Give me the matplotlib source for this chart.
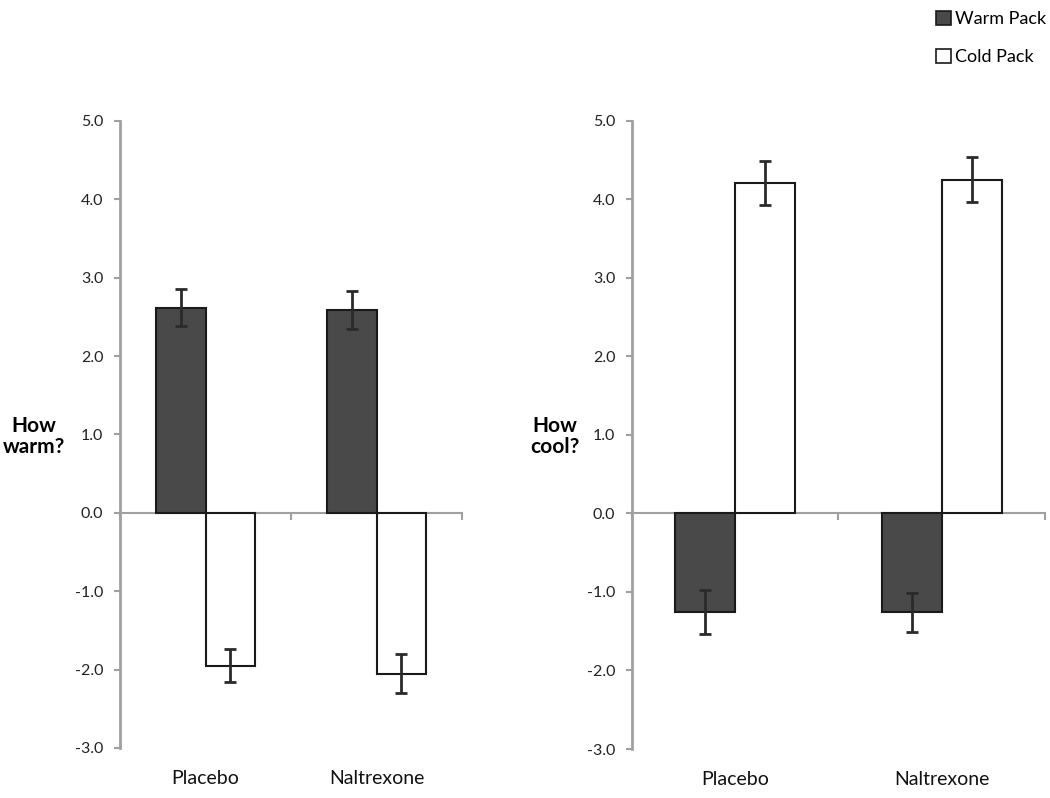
import numpy as np
import matplotlib.pyplot as plt
from matplotlib.patches import Patch

plt.rcParams['font.family'] = ['Lato', 'DejaVu Sans']
plt.rcParams['axes.unicode_minus'] = False

# data
groups = ['Placebo', 'Naltrexone']
series = ['Warm Pack', 'Cold Pack']

warm_rating_warm = [2.62, 2.59]
warm_rating_cold = [-1.95, -2.05]
warm_err_warm = [0.23, 0.24]
warm_err_cold = [0.21, 0.245]

cool_rating_warm = [-1.25, -1.26]
cool_rating_cold = [4.21, 4.25]
cool_err_warm = [0.28, 0.25]
cool_err_cold = [0.28, 0.285]

yticks = [5.0, 4.0, 3.0, 2.0, 1.0, 0.0, -1.0, -2.0, -3.0]

warm_col = '#494949'
cold_col = 'white'
edge_col = '#1a1a1a'
axis_col = '#a0a0a0'

fig = plt.figure(figsize=(10.5, 7.98), dpi=100)
ax1 = fig.add_axes([0.1143, 0.0627, 0.3257, 0.7857])
ax2 = fig.add_axes([0.6019, 0.0614, 0.3933, 0.787])


def draw_panel(ax, warm, cold, warm_err, cold_err, ylabel, ylab_x):
    x = np.arange(len(groups))
    w = 0.29
    ax.bar(x - w / 2, warm, w, color=warm_col, edgecolor=edge_col, linewidth=1.5, zorder=3)
    ax.bar(x + w / 2, cold, w, color=cold_col, edgecolor=edge_col, linewidth=1.5, zorder=3)
    ax.errorbar(x - w / 2, warm, yerr=warm_err, fmt='none', ecolor='#2a2a2a',
                elinewidth=2, capsize=4, capthick=2, zorder=4)
    ax.errorbar(x + w / 2, cold, yerr=cold_err, fmt='none', ecolor='#2a2a2a',
                elinewidth=2, capsize=4, capthick=2, zorder=4)

    ax.set_xlim(-0.5, 1.5)
    ax.set_ylim(-3, 5)
    ax.set_yticks(yticks)
    ax.set_yticklabels(['%.1f' % v for v in yticks], fontsize=11.5, color='#222222')
    ax.set_xticks([-0.5, 0.5, 1.5])
    ax.set_xticklabels([])

    for s in ['top', 'right']:
        ax.spines[s].set_visible(False)
    ax.spines['left'].set_color(axis_col)
    ax.spines['left'].set_linewidth(2)
    ax.spines['bottom'].set_position(('data', 0))
    ax.spines['bottom'].set_color(axis_col)
    ax.spines['bottom'].set_linewidth(1.5)
    ax.tick_params(axis='y', length=4, width=1.5, color=axis_col, pad=8)
    ax.tick_params(axis='x', length=5, width=1.5, color=axis_col, direction='out')

    for i, g in enumerate(groups):
        ax.text(i, -0.048, g, transform=ax.get_xaxis_transform(),
                ha='center', va='center', fontsize=14, color='#111111')

    fig.text(ylab_x, 0.453, ylabel, ha='center', va='center', fontsize=15,
             fontweight='bold', linespacing=1.1)


draw_panel(ax1, warm_rating_warm, warm_rating_cold, warm_err_warm, warm_err_cold,
           'How\nwarm?', 34 / 1050)
draw_panel(ax2, cool_rating_warm, cool_rating_cold, cool_err_warm, cool_err_cold,
           'How\ncool?', 555 / 1050)

handles = [Patch(facecolor=warm_col, edgecolor=edge_col, linewidth=1.2),
           Patch(facecolor=cold_col, edgecolor=edge_col, linewidth=1.2)]
fig.legend(handles, series, loc='upper left', bbox_to_anchor=(925 / 1050, 1.0),
           frameon=False, fontsize=13, handlelength=0.85, handleheight=0.85,
           handletextpad=0.2, labelspacing=1.2, borderpad=0.1)

plt.savefig('out.png', dpi=100)
